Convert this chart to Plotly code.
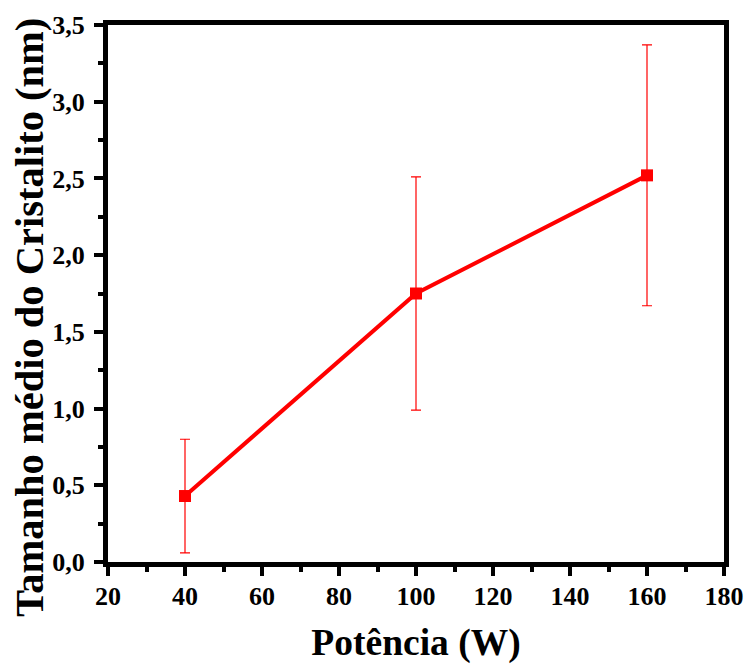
import plotly.graph_objects as go

potencia = [40, 100, 160]
tamanho = [0.43, 1.75, 2.52]
erro = [0.37, 0.76, 0.85]

x_ticks = [20, 40, 60, 80, 100, 120, 140, 160, 180]
y_ticks = [0.0, 0.5, 1.0, 1.5, 2.0, 2.5, 3.0, 3.5]
y_labels = ["0,0", "0,5", "1,0", "1,5", "2,0", "2,5", "3,0", "3,5"]

fig = go.Figure()
fig.add_trace(go.Scatter(
    x=potencia, y=tamanho,
    mode="lines+markers",
    line=dict(color="#ff0000", width=4),
    marker=dict(symbol="square", size=12, color="#ff0000"),
    error_y=dict(type="data", array=erro, visible=True, color="#ff0000", thickness=1.2, width=5),
    showlegend=False,
))

font_fam = "Liberation Serif"
fig.update_layout(
    width=745, height=664,
    margin=dict(l=108, r=21, t=25, b=102),
    plot_bgcolor="white", paper_bgcolor="white",
    font=dict(family=font_fam, color="black"),
)
fig.update_xaxes(
    range=[20, 180], tickvals=x_ticks, ticktext=["<b>%d</b>" % v for v in x_ticks],
    showgrid=False, zeroline=False, automargin=False,
    showline=True, linecolor="black", linewidth=5, mirror=True,
    ticks="outside", ticklen=9, tickwidth=4, tickcolor="black",
    minor=dict(ticks="outside", ticklen=5, tickwidth=4, dtick=10, tickcolor="black"),
    tickfont=dict(family=font_fam, size=26, color="black"),
    ticklabelstandoff=-2,
    title=dict(text="<b>Potência (W)</b>", font=dict(family=font_fam, size=37.5, color="black"), standoff=22),
)
fig.update_yaxes(
    range=[0, 3.5], tickvals=y_ticks, ticktext=["<b>%s</b>" % s for s in y_labels],
    showgrid=False, zeroline=False, automargin=False,
    showline=True, linecolor="black", linewidth=5, mirror=True,
    ticks="outside", ticklen=9, tickwidth=4, tickcolor="black",
    minor=dict(ticks="outside", ticklen=5, tickwidth=4, dtick=0.25, tickcolor="black"),
    tickfont=dict(family=font_fam, size=26, color="black"),
    ticklabelstandoff=4,
)
fig.add_annotation(
    text="<b>Tamanho médio do Cristalito (nm)</b>",
    xref="paper", yref="paper", x=-0.1266, y=0.4544,
    xanchor="center", yanchor="middle", textangle=-90, showarrow=False,
    font=dict(family=font_fam, size=40.5, color="black"),
)

fig.write_html("out.html", config={"displayModeBar": False},
               post_script="document.body.style.margin='0';")
